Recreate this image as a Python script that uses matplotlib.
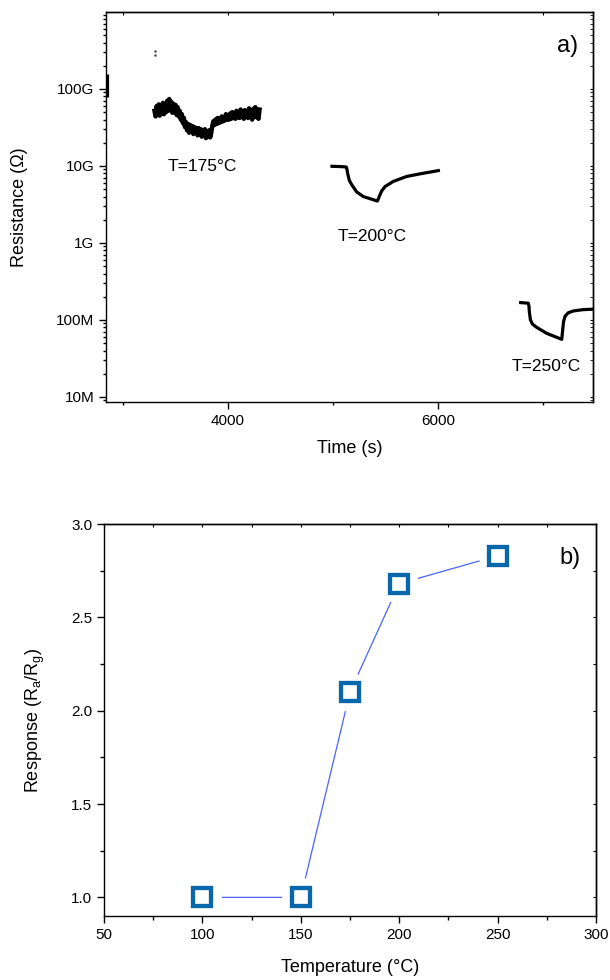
import matplotlib
matplotlib.use("Agg")
import matplotlib.pyplot as plt
import numpy as np
from matplotlib.ticker import FixedLocator, FixedFormatter, MultipleLocator, LogLocator, NullFormatter

plt.rcParams['font.family'] = ['Liberation Sans', 'DejaVu Sans']
plt.rcParams['mathtext.fontset'] = 'custom'
plt.rcParams['mathtext.rm'] = 'Liberation Sans'
plt.rcParams['mathtext.it'] = 'Liberation Sans:italic'
plt.rcParams['axes.linewidth'] = 1.0

# ---- panel a: resistance transients ----
# tail of the previous run at the left edge
t_prev = [2845, 2845]
r_prev = [1.55e11, 7.9e10]

# stray points before the 175 °C run
t_dots = [3300, 3300]
r_dots = [3.1e11, 2.8e11]

# 175 °C (noisy, sampled every 10 s), values in GOhm
t_175 = np.arange(3300, 4310, 10)
r_175 = [52, 44, 60, 46, 63, 45, 58, 48, 66, 47, 61, 50, 70, 52, 74, 55, 68, 49, 64, 50,
         62, 46, 58, 44, 52,
         40, 47, 36, 42, 32, 37, 29, 35,
         27, 34, 28, 33, 26, 32, 27, 31, 25, 31, 26, 30, 24, 29, 25, 30, 23, 28, 24, 29, 23.5, 27,
         33, 38, 34, 40, 35, 42, 36, 41, 37, 44, 38, 43, 39, 47, 40, 45,
         40, 48, 41, 50, 42, 47, 41, 52, 43, 49, 42, 54, 44, 50, 41, 53, 45, 48, 42, 56,
         44, 51, 40, 55, 45, 58, 43, 52, 41, 54]

# 200 °C, GOhm
t_200 = [4990, 5082, 5125, 5130, 5140, 5155, 5178, 5225, 5289, 5368, 5422, 5440, 5462, 5495,
         5574, 5701, 5829, 6003]
r_200 = [9.9, 9.8, 9.7, 9.4, 7.9, 6.5, 5.7, 4.6, 4.0, 3.7, 3.5, 4.0, 4.7, 5.4,
         6.3, 7.3, 7.9, 8.7]

# 250 °C, MOhm
t_250 = [6787, 6860, 6866, 6870, 6880, 6900, 6940, 7035, 7178, 7186, 7195, 7210, 7240, 7290,
         7380, 7473, 7550]
r_250 = [168, 165, 150, 125, 100, 88, 80, 67, 56, 72, 95, 112, 124, 131, 136, 138, 139]

# ---- panel b: response vs temperature ----
temperature = [100, 150, 175, 200, 250]
response = [1.0, 1.0, 2.1, 2.68, 2.83]

fig = plt.figure(figsize=(6.1, 9.8), dpi=100)
ax1 = fig.add_axes([0.1738, 0.5898, 0.7984, 0.398])
ax2 = fig.add_axes([0.1705, 0.0653, 0.8066, 0.400])

lw = 2.3
ax1.plot(t_prev, r_prev, color='black', lw=lw, solid_capstyle='butt')
ax1.plot(t_dots, r_dots, ls='none', marker='s', ms=0.8, color='#555555')
ax1.plot(t_175, np.array(r_175) * 1e9, color='black', lw=3.2, solid_joinstyle='round')
ax1.plot(t_200, np.array(r_200) * 1e9, color='black', lw=lw, solid_joinstyle='round')
ax1.plot(t_250, np.array(r_250) * 1e6, color='black', lw=lw, solid_joinstyle='round')

ax1.set_yscale('log')
ax1.set_xlim(2838, 7476)
ax1.set_ylim(8.6e6, 1e12)
ax1.yaxis.set_major_locator(FixedLocator([1e7, 1e8, 1e9, 1e10, 1e11]))
ax1.yaxis.set_major_formatter(FixedFormatter(['10M', '100M', '1G', '10G', '100G']))
ax1.yaxis.set_minor_locator(LogLocator(base=10, subs=np.arange(2, 10)))
ax1.yaxis.set_minor_formatter(NullFormatter())
ax1.xaxis.set_major_locator(FixedLocator([4000, 6000]))
ax1.xaxis.set_minor_locator(FixedLocator([3000, 5000, 7000]))
ax1.tick_params(which='major', direction='out', length=5, width=1, labelsize=11)
ax1.tick_params(which='minor', direction='out', length=2.5, width=1)

sec_top = ax1.secondary_xaxis('top')
sec_top.xaxis.set_major_locator(MultipleLocator(1000))
sec_top.tick_params(direction='in', length=2.5, labeltop=False)
sec_right = ax1.secondary_yaxis('right')
sec_right.yaxis.set_major_locator(FixedLocator([1e7, 1e8, 1e9, 1e10, 1e11]))
sec_right.yaxis.set_minor_locator(LogLocator(base=10, subs=np.arange(2, 10)))
sec_right.yaxis.set_minor_formatter(NullFormatter())
sec_right.tick_params(which='both', direction='in', length=2.5, labelright=False)

ax1.set_xlabel('Time (s)', fontsize=13)
ax1.set_ylabel('Resistance (\u03a9)', fontsize=13)
ax1.xaxis.set_label_coords(0.5, -0.098)
ax1.yaxis.set_label_coords(-0.16, 0.5)

ax1.text(3752, 9.7e9, 'T=175°C', fontsize=12.5, ha='center', va='center')
ax1.text(5371, 1.23e9, 'T=200°C', fontsize=12.5, ha='center', va='center')
ax1.text(7029, 2.45e7, 'T=250°C', fontsize=12.5, ha='center', va='center')
ax1.text(0.947, 0.913, 'a)', fontsize=17, ha='center', va='center', transform=ax1.transAxes)

# ---- panel b ----
blue = '#0867ab'
ax2.plot(temperature, response, color='#4a63ff', lw=0.9, zorder=1)
ax2.plot(temperature, response, ls='none', marker='o', ms=28, mfc='white', mec='none', zorder=2)
ax2.plot(temperature, response, ls='none', marker='s', ms=13.6, mfc='white', mec=blue,
         mew=3.1, zorder=3)

ax2.set_xlim(50, 300)
ax2.set_ylim(0.9, 3.0)
ax2.xaxis.set_major_locator(MultipleLocator(50))
ax2.xaxis.set_minor_locator(MultipleLocator(25))
ax2.yaxis.set_major_locator(MultipleLocator(0.5))
ax2.yaxis.set_minor_locator(MultipleLocator(0.25))
ax2.tick_params(which='major', direction='out', length=5, width=1, labelsize=11)
ax2.tick_params(which='minor', direction='out', length=3, width=1)

sec_top2 = ax2.secondary_xaxis('top')
sec_top2.xaxis.set_major_locator(MultipleLocator(25))
sec_top2.tick_params(direction='in', length=2.5, labeltop=False)
sec_right2 = ax2.secondary_yaxis('right')
sec_right2.yaxis.set_major_locator(MultipleLocator(0.25))
sec_right2.tick_params(direction='in', length=2.5, labelright=False)

ax2.set_xlabel('Temperature (°C)', fontsize=13)
ax2.set_ylabel(r'Response (R$_\mathregular{a}$/R$_\mathregular{g}$)', fontsize=13)
ax2.xaxis.set_label_coords(0.5, -0.11)
ax2.yaxis.set_label_coords(-0.115, 0.5)
ax2.text(0.947, 0.913, 'b)', fontsize=17, ha='center', va='center', transform=ax2.transAxes)

fig.savefig('out.png', dpi=100)
